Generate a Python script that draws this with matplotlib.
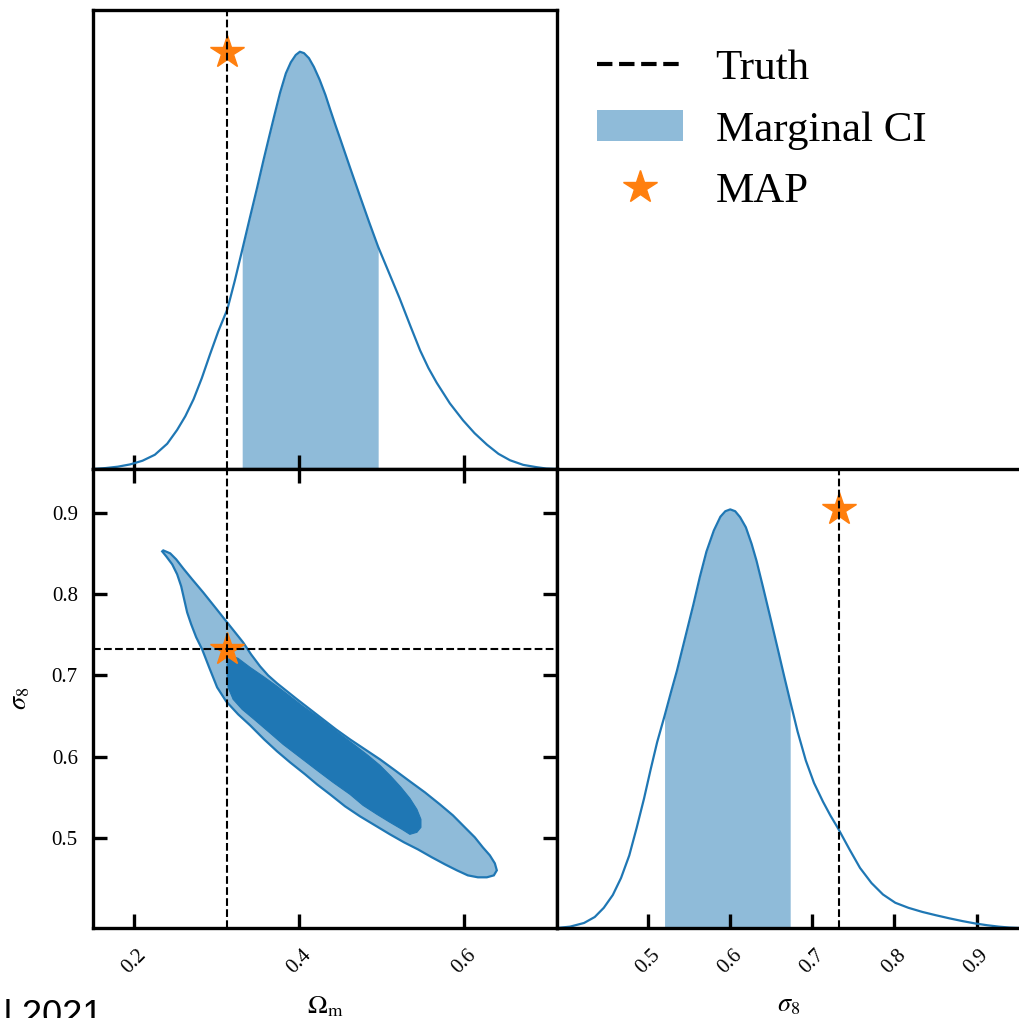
import matplotlib
matplotlib.use("Agg")
import matplotlib.pyplot as plt
from matplotlib.lines import Line2D
from matplotlib.patches import Patch

plt.rcParams["font.family"] = "serif"
plt.rcParams["font.serif"] = ["Liberation Serif"]
plt.rcParams["mathtext.fontset"] = "stix"

BLUE = "#1f77b4"
LIGHT = "#8fbbd9"
ORANGE = "#ff7f0e"

# truth and MAP values
truth_om = 0.3127
truth_s8 = 0.7325
map_om = 0.3127
map_s8 = 0.7325

om_lim = (0.150, 0.713)
s8_lim = (0.389, 0.954)
om_ticks = [0.2, 0.4, 0.6]
s8_ticks = [0.5, 0.6, 0.7, 0.8, 0.9]

# marginal of Omega_m (normalised to panel height)
om_x = [0.150, 0.165, 0.180, 0.195, 0.210, 0.225, 0.240, 0.252, 0.262, 0.272,
        0.282, 0.292, 0.302, 0.313, 0.322, 0.331, 0.340, 0.349, 0.357, 0.364,
        0.370, 0.377, 0.384, 0.390, 0.396, 0.401, 0.406, 0.412, 0.418, 0.425,
        0.432, 0.438, 0.444, 0.450, 0.462, 0.474, 0.485, 0.496, 0.509, 0.522,
        0.535, 0.547, 0.557, 0.567, 0.583, 0.599, 0.613, 0.628, 0.642, 0.656,
        0.672, 0.688, 0.700, 0.713]
om_p = [0.000, 0.002, 0.005, 0.010, 0.018, 0.031, 0.055, 0.085, 0.115, 0.152,
        0.198, 0.250, 0.300, 0.348, 0.410, 0.477, 0.545, 0.612, 0.674, 0.726,
        0.770, 0.820, 0.862, 0.886, 0.902, 0.909, 0.906, 0.895, 0.876, 0.848,
        0.815, 0.782, 0.750, 0.719, 0.656, 0.594, 0.538, 0.484, 0.428, 0.372,
        0.312, 0.258, 0.220, 0.188, 0.143, 0.106, 0.078, 0.053, 0.033, 0.019,
        0.009, 0.004, 0.001, 0.000]
om_ci = (0.331, 0.496)

# marginal of sigma_8
s8_x = [0.389, 0.405, 0.422, 0.435, 0.446, 0.457, 0.467, 0.477, 0.486, 0.495,
        0.503, 0.511, 0.520, 0.528, 0.535, 0.545, 0.555, 0.563, 0.571, 0.580,
        0.588, 0.594, 0.600, 0.606, 0.612, 0.619, 0.626, 0.632, 0.640, 0.649,
        0.658, 0.666, 0.673, 0.682, 0.692, 0.702, 0.713, 0.722, 0.731, 0.745,
        0.758, 0.772, 0.786, 0.801, 0.817, 0.834, 0.850, 0.867, 0.883, 0.898,
        0.913, 0.927, 0.940, 0.954]
s8_p = [0.000, 0.003, 0.011, 0.024, 0.044, 0.072, 0.109, 0.158, 0.218, 0.282,
        0.345, 0.405, 0.462, 0.515, 0.560, 0.632, 0.704, 0.765, 0.820, 0.866,
        0.896, 0.908, 0.912, 0.908, 0.895, 0.873, 0.837, 0.800, 0.742, 0.675,
        0.607, 0.546, 0.494, 0.428, 0.365, 0.316, 0.275, 0.245, 0.218, 0.172,
        0.131, 0.098, 0.073, 0.055, 0.044, 0.035, 0.028, 0.021, 0.015, 0.010,
        0.006, 0.003, 0.001, 0.000]
s8_ci = (0.520, 0.673)

# 2D credible region outlines (outer = 95%, inner = 68%)
outer_om = [0.2352, 0.2436, 0.2509, 0.2594, 0.2703, 0.2836, 0.2982, 0.3127, 0.3224, 0.3321,
            0.3418, 0.3527, 0.3624, 0.3733, 0.3855, 0.3976, 0.4133, 0.4291, 0.4448, 0.4618,
            0.4800, 0.4982, 0.5164, 0.5345, 0.5527, 0.5709, 0.5867, 0.6012, 0.6133, 0.6230,
            0.6315, 0.6376, 0.6400, 0.6364, 0.6279, 0.6170, 0.6048, 0.5915, 0.5770, 0.5612,
            0.5442, 0.5273, 0.5103, 0.4921, 0.4739, 0.4558, 0.4376, 0.4218, 0.4073, 0.3891,
            0.3733, 0.3576, 0.3406, 0.3261, 0.3115, 0.3006, 0.2909, 0.2824, 0.2752, 0.2691,
            0.2642, 0.2606, 0.2570, 0.2521, 0.2461, 0.2388, 0.2339]
outer_s8 = [0.8538, 0.8502, 0.8428, 0.8317, 0.8182, 0.8022, 0.7837, 0.7652, 0.7529, 0.7406,
            0.7258, 0.7111, 0.7000, 0.6902, 0.6803, 0.6705, 0.6582, 0.6458, 0.6335, 0.6212,
            0.6089, 0.5966, 0.5831, 0.5695, 0.5560, 0.5412, 0.5277, 0.5129, 0.5006, 0.4883,
            0.4785, 0.4686, 0.4600, 0.4538, 0.4514, 0.4514, 0.4538, 0.4600, 0.4674, 0.4760,
            0.4858, 0.4945, 0.5043, 0.5154, 0.5265, 0.5388, 0.5535, 0.5658, 0.5782, 0.5929,
            0.6065, 0.6212, 0.6385, 0.6520, 0.6680, 0.6852, 0.7098, 0.7320, 0.7468, 0.7628,
            0.7775, 0.7935, 0.8095, 0.8243, 0.8366, 0.8465, 0.8526]
inner_om = [0.3127, 0.3164, 0.3261, 0.3406, 0.3564, 0.3733, 0.3891, 0.4048, 0.4218, 0.4376,
            0.4533, 0.4679, 0.4836, 0.4982, 0.5115, 0.5236, 0.5345, 0.5430, 0.5479, 0.5479,
            0.5430, 0.5345, 0.5248, 0.5103, 0.4945, 0.4776, 0.4618, 0.4412, 0.4218, 0.4012,
            0.3806, 0.3624, 0.3455, 0.3309, 0.3200, 0.3139, 0.3127]
inner_s8 = [0.7135, 0.7246, 0.7209, 0.7098, 0.6988, 0.6865, 0.6742, 0.6618, 0.6495, 0.6372,
            0.6249, 0.6138, 0.6015, 0.5892, 0.5757, 0.5622, 0.5486, 0.5351, 0.5228, 0.5129,
            0.5068, 0.5043, 0.5105, 0.5191, 0.5289, 0.5400, 0.5535, 0.5683, 0.5831, 0.5991,
            0.6151, 0.6311, 0.6458, 0.6582, 0.6705, 0.6852, 0.7012]

fig = plt.figure(figsize=(10.19, 10.18), dpi=100)
ax_top = fig.add_axes([0.0913, 0.5393, 0.4553, 0.4509])
ax_2d = fig.add_axes([0.0913, 0.0884, 0.4553, 0.4509])
ax_r = fig.add_axes([0.5466, 0.0884, 0.4553, 0.4509])

for ax in (ax_top, ax_2d, ax_r):
    for s in ax.spines.values():
        s.set_linewidth(2.4)
    ax.tick_params(direction="in", length=10, width=2.4, labelsize=15)

# top: Omega_m marginal
ax_top.plot(om_x, om_p, color=BLUE, lw=1.6, solid_joinstyle="round")
mask = [om_ci[0] <= x <= om_ci[1] for x in om_x]
ax_top.fill_between(om_x, 0, om_p, where=mask, color=LIGHT, lw=0)
ax_top.plot([map_om], [max(om_p)], marker="*", ms=25, color=ORANGE, ls="none")
ax_top.axvline(truth_om, color="k", ls="--", lw=1.5)
ax_top.set_xlim(om_lim)
ax_top.set_ylim(0, 1)
ax_top.set_xticks(om_ticks)
ax_top.set_yticks([])
ax_top.tick_params(labelbottom=False)

# bottom left: joint
ax_2d.fill(outer_om, outer_s8, facecolor=LIGHT, edgecolor=BLUE, lw=1.6)
ax_2d.fill(inner_om, inner_s8, facecolor=BLUE, edgecolor=BLUE, lw=0.8)
ax_2d.plot([map_om], [map_s8], marker="*", ms=25, color=ORANGE, ls="none")
ax_2d.axvline(truth_om, color="k", ls="--", lw=1.5)
ax_2d.axhline(truth_s8, color="k", ls="--", lw=1.5)
ax_2d.set_xlim(om_lim)
ax_2d.set_ylim(s8_lim)
ax_2d.set_xticks(om_ticks)
ax_2d.set_yticks(s8_ticks)
ax_2d.tick_params(top=True, right=True)
ax_2d.tick_params(axis="y", pad=11)
ax_2d.tick_params(axis="x", pad=13)
ax_2d.set_xlabel(r"$\Omega_{\rm m}$", fontsize=19, labelpad=12)
ax_2d.set_ylabel(r"$\sigma_8$", fontsize=19, labelpad=14)

# bottom right: sigma_8 marginal
ax_r.plot(s8_x, s8_p, color=BLUE, lw=1.6, solid_joinstyle="round")
mask = [s8_ci[0] <= x <= s8_ci[1] for x in s8_x]
ax_r.fill_between(s8_x, 0, s8_p, where=mask, color=LIGHT, lw=0)
ax_r.plot([map_s8], [max(s8_p)], marker="*", ms=25, color=ORANGE, ls="none")
ax_r.axvline(truth_s8, color="k", ls="--", lw=1.5)
ax_r.set_xlim(s8_lim)
ax_r.set_ylim(0, 1)
ax_r.set_xticks(s8_ticks)
ax_r.set_yticks([])
ax_r.tick_params(axis="x", pad=13)
ax_r.set_xlabel(r"$\sigma_8$", fontsize=19, labelpad=12)

for ax in (ax_2d, ax_r):
    for lab in ax.get_xticklabels():
        lab.set_rotation(45)
        lab.set_ha("center")

handles = [Line2D([], [], color="k", ls="--", lw=3),
           Patch(facecolor=LIGHT, edgecolor="none"),
           Line2D([], [], color=ORANGE, marker="*", ms=25, ls="none")]
fig.legend(handles, ["Truth", "Marginal CI", "MAP"], loc="upper left",
           bbox_to_anchor=(0.586, 0.952), frameon=False, fontsize=31,
           handlelength=2.0, handletextpad=0.75, labelspacing=0.52,
           borderpad=0, borderaxespad=0)

fig.text(0.004, -0.008, "l 2021", family="Liberation Sans", fontsize=26,
         va="baseline", ha="left")

fig.savefig("out.png", dpi=100)
